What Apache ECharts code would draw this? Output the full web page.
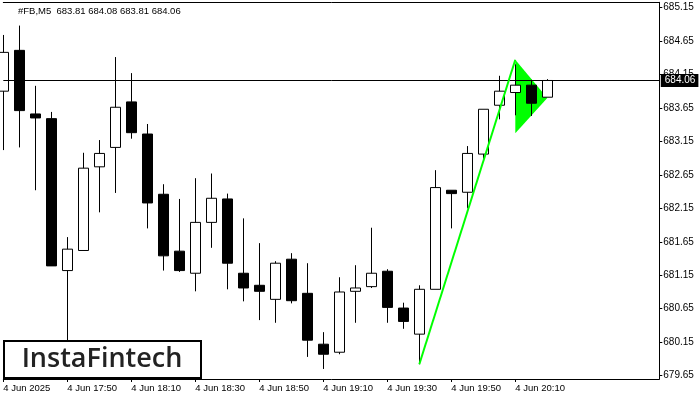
<!DOCTYPE html>
<html><head><meta charset="utf-8">
<script src="https://cdn.jsdelivr.net/npm/echarts@6/dist/echarts.min.js"></script>
<style>html,body{margin:0;padding:0;background:#fff}#c{width:700px;height:400px}</style>
</head><body><div id="c"></div>
<script>
const categories = ['17:30','17:35','17:40','17:45','17:50','17:55','18:00','18:05','18:10','18:15','18:20','18:25','18:30','18:35','18:40','18:45','18:50','18:55','19:00','19:05','19:10','19:15','19:20','19:25','19:30','19:35','19:40','19:45','19:50','19:55','20:00','20:05','20:10','20:15','20:20','20:25','20:30','20:35','20:40','20:45','20:50','20:55'];
const opens  = [683.90,684.51,683.56,683.49,681.22,681.52,682.77,683.06,683.74,683.26,682.36,681.51,681.18,681.94,682.29,681.18,681.00,680.79,681.39,680.88,680.12,680.00,680.91,680.98,681.21,680.66,680.27,680.94,682.42,682.39,682.96,683.69,683.88,683.99,683.81];
const highs  = [684.74,684.88,683.98,683.59,681.72,682.98,683.17,684.41,684.17,683.41,682.51,682.29,682.60,682.67,682.37,682.00,681.63,681.36,681.48,681.33,680.30,681.12,681.30,681.86,681.24,680.74,681.00,682.72,682.42,683.08,683.63,684.13,684.30,684.07,684.08];
const lows   = [683.02,683.06,682.42,681.29,680.05,681.52,682.09,682.38,683.19,681.85,681.22,681.20,680.91,681.56,680.94,680.76,680.48,680.44,680.73,679.93,679.75,679.97,680.44,680.96,680.44,680.35,679.82,680.94,681.85,682.15,682.89,683.48,683.54,683.53,683.81];
const closes = [684.48,683.61,683.50,681.29,681.54,682.75,682.97,683.66,683.28,682.23,681.44,681.22,681.94,682.30,681.33,680.96,680.91,681.33,680.77,680.18,679.97,680.90,680.96,681.18,680.67,680.46,680.94,682.46,682.37,682.97,683.63,683.90,683.99,683.72,684.06];
const yTickValues = [679.65,680.15,680.65,681.15,681.65,682.15,682.65,683.15,683.65,684.15,684.65,685.15];
const xTickIndex = [0,4,8,12,16,20,24,28,32];
const xTickLabels = ['4 Jun 2025','4 Jun 17:50','4 Jun 18:10','4 Jun 18:30','4 Jun 18:50','4 Jun 19:10','4 Jun 19:30','4 Jun 19:50','4 Jun 20:10'];
const lastPrice = 684.06;
const headerText = '#FB,M5  683.81 684.08 683.81 684.06';
const poleLine = [[26,679.82],[32,684.37]];
const pennant = [[32,684.37],[34,683.80],[32,683.27]];
const yMin = 679.60, yMax = 685.228;

const candleData = opens.map((o,i)=>[o, closes[i], lows[i], highs[i]]);
const FONT = 'Liberation Sans';
const chart = echarts.init(document.getElementById('c'), null, {renderer:'canvas'});
chart.setOption({
  animation:false,
  grid:{left:3.3,right:40.7,top:2.3,bottom:21,containLabel:false},
  xAxis:[{
    type:'category',data:categories,boundaryGap:false,
    axisLine:{lineStyle:{color:'#000',width:1}},
    axisTick:{length:3,interval:(i)=>xTickIndex.includes(i),lineStyle:{color:'#000'}},
    axisLabel:{interval:(i)=>xTickIndex.includes(i),
      formatter:(v,i)=>{const k=xTickIndex.indexOf(i);return k>=0?xTickLabels[k]:'';},
      align:'left',margin:4,color:'#000',fontFamily:FONT,fontSize:9.5},
    splitLine:{show:false}
  },{
    type:'category',data:categories,boundaryGap:false,position:'top',
    axisLine:{lineStyle:{color:'#000'}},axisTick:{show:false},axisLabel:{show:false},splitLine:{show:false}
  }],
  yAxis:{
    type:'value',position:'right',min:yMin,max:yMax,
    axisLine:{show:true,lineStyle:{color:'#000'}},
    axisTick:{show:true,length:3,customValues:yTickValues,lineStyle:{color:'#000'}},
    axisLabel:{customValues:yTickValues,formatter:v=>v.toFixed(2),margin:4,color:'#000',fontFamily:FONT,fontSize:10},
    splitLine:{show:false}
  },
  series:[
    {type:'custom',z:1,silent:true,data:[[32,684.37]],clip:false,
     renderItem:(params,api)=>{const pts=pennant.map(p=>api.coord(p));
       return {type:'polygon',shape:{points:pts},style:{fill:'#00ff00'}};}},
    {type:'candlestick',z:2,data:candleData,barWidth:10,clip:true,
     itemStyle:{color:'#fff',color0:'#000',borderColor:'#000',borderColor0:'#000',borderWidth:1},
     emphasis:{disabled:true},
     markLine:{symbol:'none',silent:true,data:[{yAxis:lastPrice}],
       lineStyle:{color:'#000',width:1,type:'solid'},
       emphasis:{disabled:true},
       label:{position:'end',formatter:lastPrice.toFixed(2),backgroundColor:'#000',color:'#fff',
         padding:[2,3,1,4],distance:1.5,fontFamily:FONT,fontSize:10}}},
    {type:'line',z:5,data:poleLine,symbol:'none',silent:true,lineStyle:{color:'#00ff00',width:2}}
  ],
  graphic:[
    {type:'text',x:18,y:11,z:100,style:{text:headerText,font:'9.5px "Liberation Sans"',fill:'#000',textVerticalAlign:'middle'}},
    {type:'rect',z:100,shape:{x:4,y:341,width:197,height:37},style:{fill:'#fff',stroke:'#000',lineWidth:2}},
    {type:'text',z:101,x:102,y:359,style:{text:'InstaFintech',font:'600 27px "Open Sans"',fill:'#222',textAlign:'center',textVerticalAlign:'middle'}}
  ]
});
</script></body></html>
